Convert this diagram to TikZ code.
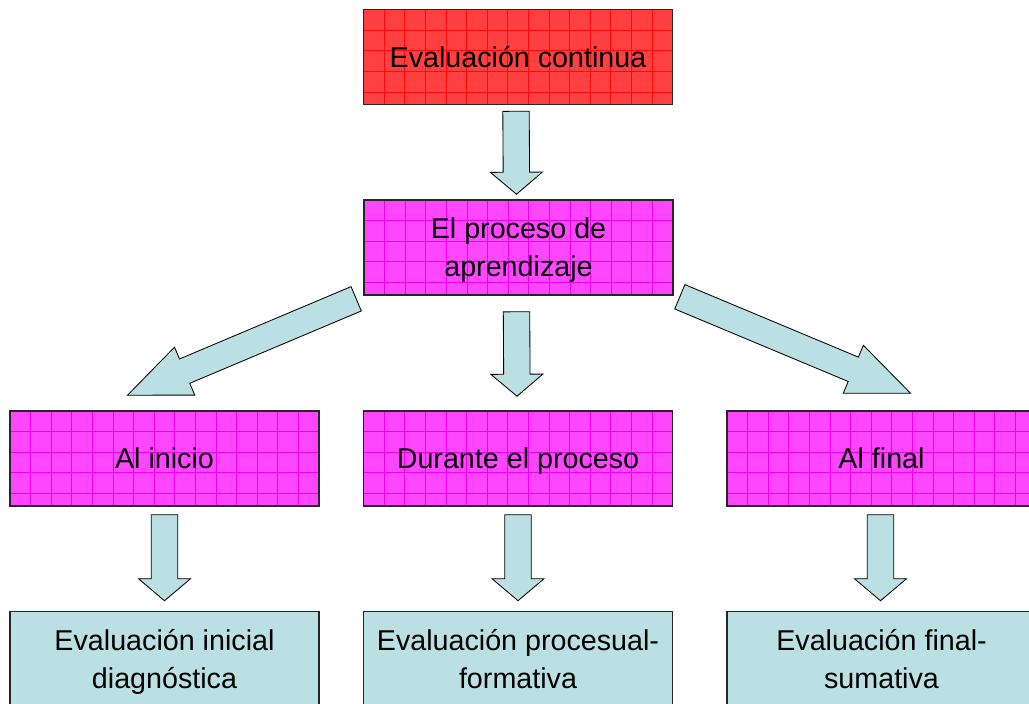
\documentclass[tikz,border=0pt]{standalone}
\usepackage{fontspec}
\setmainfont{Liberation Sans}
\usetikzlibrary{calc}

\definecolor{redfill}{RGB}{255,64,64}
\definecolor{redline}{RGB}{255,10,10}
\definecolor{pinkfill}{RGB}{255,70,255}
\definecolor{pinkline}{RGB}{238,0,238}
\definecolor{lightteal}{RGB}{187,224,227}

\newcommand\boxfont{\fontsize{20.4}{27}\selectfont}

% fat arrow from #2 to #3, #1 is the length of the head
\newcommand\blockarrow[3][0.55cm]{%
  \path #2 coordinate (ba-s) #3 coordinate (ba-e);
  \path ($(ba-e)!#1!(ba-s)$) coordinate (ba-n);
  \draw[fatarrow] ($(ba-s)!0.33cm!90:(ba-e)$) -- ($(ba-n)!0.33cm!-90:(ba-s)$)
    -- ($(ba-n)!0.65cm!-90:(ba-s)$) -- (ba-e) -- ($(ba-n)!0.65cm!90:(ba-s)$)
    -- ($(ba-n)!0.33cm!90:(ba-s)$) -- ($(ba-s)!0.33cm!-90:(ba-e)$) -- cycle;
}

% the grid lines inside a box
\newcommand\boxgrid[1]{%
  \foreach \k in {1,...,14}
    \draw[#1, line width=0.5pt] ([xshift=\k*0.515cm]path picture bounding box.south west)
      -- ([xshift=\k*0.515cm]path picture bounding box.north west);
  \foreach \k in {1,...,4}
    \draw[#1, line width=0.5pt] ([yshift=-\k*0.515cm]path picture bounding box.north west)
      -- ([yshift=-\k*0.515cm]path picture bounding box.north east);
}

\tikzset{
  box/.style={draw=black!85, line width=1.1pt, minimum width=7.725cm,
    minimum height=2.375cm, inner sep=0pt, text depth=0pt, align=center, font=\boxfont},
  redbox/.style={box, fill=redfill, path picture={\boxgrid{redline}}},
  pinkbox/.style={box, fill=pinkfill, path picture={\boxgrid{pinkline}}},
  plainbox/.style={box, fill=lightteal},
  fatarrow/.style={draw=black, line width=0.6pt, fill=lightteal, line join=miter}
}

\begin{document}
\begin{tikzpicture}[x=0.025cm, y=-0.025cm]
        \clip (0,0) rectangle (1029,703);

        % the boxes
        \node[redbox] (cont) at (518,57) {Evaluación continua};
        \node[pinkbox] (proc) at (518.5,247.5) {El proceso de\\aprendizaje};

        \node[pinkbox] (inicio) at (164.5,458.5) {Al inicio};
        \node[pinkbox] (durante) at (518,458.5) {Durante el proceso};
        \node[pinkbox] (final) at (881.5,458.5) {Al final};

        \node[plainbox] (diag) at (164.5,659) {Evaluación inicial\\diagnóstica};
        \node[plainbox] (form) at (518,659) {Evaluación procesual-\\formativa};
        \node[plainbox] (suma) at (881.5,659) {Evaluación final-\\sumativa};

        % the fat arrows
        \blockarrow{($(cont.south)+(-2,6)$)}{($(proc.north)+(-2,-5)$)}
        \blockarrow{($(proc.south)+(-2,16)$)}{($(durante.north)+(-1,-14)$)}
        \blockarrow[1.55cm]{($(proc.south west)+(-7,3)$)}{($(inicio.north)+(-37,-15)$)}
        \blockarrow[1.55cm]{($(proc.south east)+(6,1)$)}{($(final.north)+(29,-17)$)}

        \blockarrow{($(inicio.south)+(0,8)$)}{($(diag.north)+(0,-10)$)}
        \blockarrow{($(durante.south)+(0,8)$)}{($(form.north)+(0,-10)$)}
        \blockarrow{($(final.south)+(-1,8)$)}{($(suma.north)+(-1,-10)$)}

    \end{tikzpicture}
\end{document}
